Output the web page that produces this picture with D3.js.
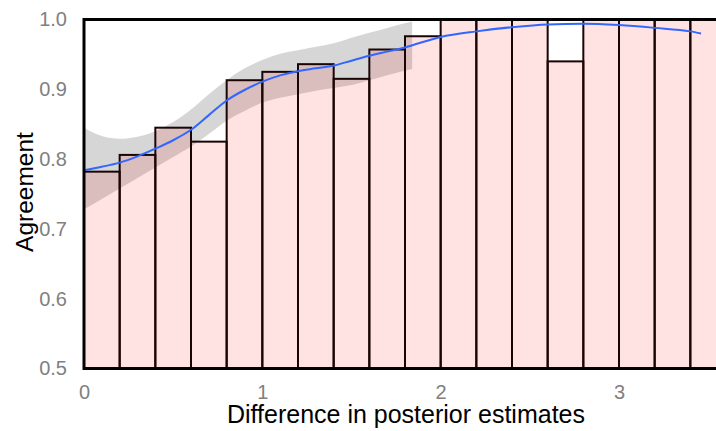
<!DOCTYPE html>
<html>
<head>
<meta charset="utf-8">
<script src="https://cdn.jsdelivr.net/npm/d3@7"></script>
<style>
    body { margin: 0; background: #fff; }
    text { font-family: "Liberation Sans", Arial, sans-serif; }
</style>
</head>
<body>
<div id="d3container"></div>
<script>
// histogram bins (left edge) and share of agreement per bin
var binStarts = [0, 0.2, 0.4, 0.6, 0.8, 1.0, 1.2, 1.4, 1.6, 1.8, 2.0, 2.2, 2.4, 2.6, 2.8, 3.0, 3.2, 3.4];
var agreement = [0.782, 0.806, 0.845, 0.825, 0.913, 0.925, 0.936, 0.915, 0.957, 0.976, 1, 1, 1, 0.94, 1, 1, 1, 1];
var binWidth = 0.2;

// smooth fit
var smoothX = [0, 0.1, 0.2, 0.3, 0.4, 0.5, 0.6, 0.7, 0.8, 0.9, 1.0, 1.1, 1.2, 1.3, 1.4, 1.5, 1.6, 1.7, 1.8, 2.0, 2.2, 2.4, 2.6, 2.8, 3.0, 3.2, 3.4, 3.46];
var smoothY = [0.784, 0.789, 0.795, 0.804, 0.815, 0.827, 0.842, 0.863, 0.884, 0.899, 0.911, 0.920, 0.926, 0.930, 0.934, 0.941, 0.948, 0.954, 0.960, 0.975, 0.983, 0.989, 0.993, 0.994, 0.992, 0.988, 0.983, 0.980];

// confidence band, only drawn where it stays inside the panel
var bandX = [0, 0.1, 0.2, 0.3, 0.4, 0.5, 0.6, 0.7, 0.8, 0.9, 1.0, 1.1, 1.2, 1.3, 1.4, 1.5, 1.6, 1.7, 1.84];
var bandHigh = [0.845, 0.833, 0.829, 0.832, 0.840, 0.853, 0.871, 0.893, 0.913, 0.930, 0.942, 0.951, 0.956, 0.961, 0.966, 0.974, 0.981, 0.988, 0.997];
var bandLow = [0.728, 0.743, 0.758, 0.773, 0.788, 0.803, 0.818, 0.836, 0.855, 0.869, 0.881, 0.888, 0.893, 0.898, 0.902, 0.906, 0.913, 0.920, 0.929];

var xTicks = [0, 1, 2, 3];
var yTicks = [0.5, 0.6, 0.7, 0.8, 0.9, 1.0];

var width = 716;
var height = 431;

var x = d3.scaleLinear()
    .domain([0, 3.6])
    .range([84, 726]);

var y = d3.scaleLinear()
    .domain([0.5, 1.0])
    .range([368.5, 19.5]);

var svg = d3.select('#d3container').append('svg')
    .attr('width', width)
    .attr('height', height);

// grey ribbon behind everything
var band = d3.area()
    .x(function (d, i) { return x(bandX[i]); })
    .y0(function (d, i) { return y(bandLow[i]); })
    .y1(function (d) { return y(d); })
    .curve(d3.curveMonotoneX);

svg.append('path')
    .attr('d', band(bandHigh))
    .attr('fill', '#999999')
    .attr('fill-opacity', 0.4);

// bars, transparent red so the ribbon shows through
svg.selectAll('rect.bar')
    .data(agreement)
    .enter().append('rect')
    .attr('class', 'bar')
    .attr('x', function (d, i) { return x(binStarts[i]); })
    .attr('y', function (d) { return y(d); })
    .attr('width', x(binWidth) - x(0))
    .attr('height', function (d) { return y(0.5) - y(d); })
    .attr('fill', 'rgba(255, 0, 0, 0.11)')
    .attr('stroke', '#1a0505')
    .attr('stroke-width', 2);

var line = d3.line()
    .x(function (d, i) { return x(smoothX[i]); })
    .y(function (d) { return y(d); })
    .curve(d3.curveMonotoneX);

svg.append('path')
    .attr('d', line(smoothY))
    .attr('fill', 'none')
    .attr('stroke', '#3366ff')
    .attr('stroke-width', 2);

// panel frame
svg.append('rect')
    .attr('x', x(0))
    .attr('y', y(1.0))
    .attr('width', x(3.6) - x(0))
    .attr('height', y(0.5) - y(1.0))
    .attr('fill', 'none')
    .attr('stroke', '#000')
    .attr('stroke-width', 3);

// axes without lines, just the grey labels
var yAxis = d3.axisLeft(y)
    .tickValues(yTicks)
    .tickFormat(d3.format('.1f'))
    .tickSize(0)
    .tickPadding(17);

var xAxis = d3.axisBottom(x)
    .tickValues(xTicks)
    .tickFormat(d3.format('d'))
    .tickSize(0)
    .tickPadding(16);

var yg = svg.append('g')
    .attr('transform', 'translate(' + x(0) + ', 0)')
    .call(yAxis);

var xg = svg.append('g')
    .attr('transform', 'translate(0, ' + y(0.5) + ')')
    .call(xAxis);

[yg, xg].forEach(function (g) {
    g.select('.domain').remove();
    g.selectAll('text')
        .attr('fill', '#808080')
        .style('font-size', '20px')
        .style('font-family', '"Liberation Sans", Arial, sans-serif');
});

svg.append('text')
    .attr('x', 406)
    .attr('y', 423)
    .attr('text-anchor', 'middle')
    .style('font-size', '25px')
    .text('Difference in posterior estimates');

svg.append('text')
    .attr('transform', 'translate(33, 192) rotate(-90)')
    .attr('text-anchor', 'middle')
    .style('font-size', '24.5px')
    .text('Agreement');
</script>
</body>
</html>
